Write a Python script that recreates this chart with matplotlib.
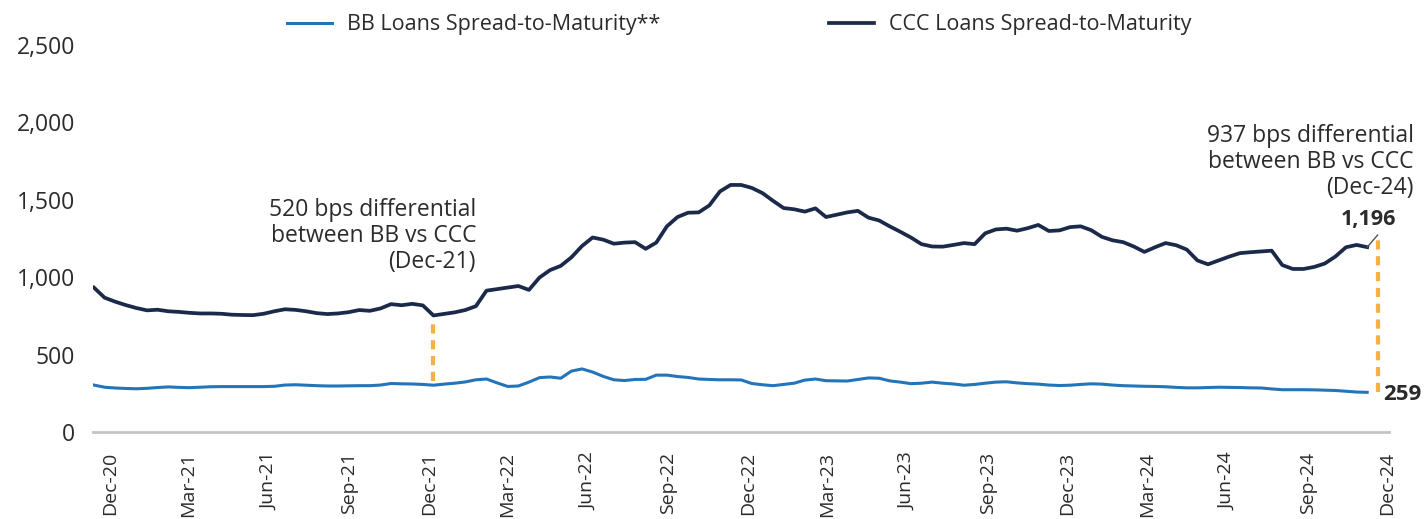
import pandas as pd
import numpy as np
import matplotlib
matplotlib.use("Agg")
import matplotlib.pyplot as plt
import matplotlib.dates as mdates
from matplotlib.ticker import FuncFormatter

plt.rcParams['font.family'] = ['Open Sans', 'DejaVu Sans']

# spread-to-maturity in bps (roughly every 12 days)
ccc = [935, 870, 844, 822, 803, 788, 792, 782, 778, 772,
       768, 768, 766, 760, 758, 757, 766, 782, 795, 791,
       782, 770, 764, 768, 776, 790, 785, 800, 828, 821,
       830, 820, 755, 765, 775, 790, 815, 915, 925, 935,
       945, 920, 1000, 1048, 1075, 1130, 1203, 1258, 1244, 1218,
       1225, 1228, 1185, 1225, 1330, 1390, 1418, 1420, 1465, 1555,
       1597, 1597, 1578, 1545, 1495, 1448, 1440, 1425, 1446, 1390,
       1405, 1420, 1430, 1386, 1368, 1330, 1295, 1258, 1215, 1200,
       1199, 1210, 1222, 1215, 1285, 1310, 1315, 1302, 1318, 1339,
       1300, 1304, 1325, 1330, 1305, 1262, 1240, 1228, 1200, 1165,
       1195, 1222, 1208, 1180, 1110, 1085, 1110, 1135, 1157, 1163,
       1168, 1173, 1080, 1055, 1055, 1068, 1090, 1135, 1195, 1210,
       1196]
bb = [306, 292, 287, 284, 282, 285, 290, 294, 291, 289,
      292, 295, 296, 296, 296, 296, 296, 298, 306, 308,
      305, 302, 300, 300, 301, 302, 302, 306, 316, 314,
      313, 310, 305, 312, 318, 326, 340, 345, 320, 297,
      300, 325, 354, 358, 350, 396, 410, 390, 362, 340,
      335, 342, 343, 370, 370, 361, 355, 345, 342, 340,
      340, 339, 316, 308, 302, 310, 318, 338, 345, 334,
      333, 332, 342, 352, 350, 333, 325, 315, 318, 325,
      318, 313, 305, 310, 318, 325, 327, 320, 315, 312,
      306, 303, 305, 310, 314, 312, 306, 302, 300, 298,
      297, 295, 291, 288, 288, 290, 292, 291, 290, 288,
      287, 281, 276, 276, 276, 275, 273, 271, 266, 261,
      259]
dates = pd.date_range('2020-11-13', '2024-11-08', periods=len(ccc))

blue = '#2474b9'
navy = '#1c2a4a'
orange = '#f9b040'
txt = '#2b2b2b'

fig = plt.figure(figsize=(14.27, 5.19), dpi=100)
ax = fig.add_axes([0.0652, 0.1667, 0.9082, 0.7466])

ax.plot(dates, bb, color=blue, lw=2.2, label='BB Loans Spread-to-Maturity**')
ax.plot(dates, ccc, color=navy, lw=2.7, label='CCC Loans Spread-to-Maturity')

# differential markers
i21 = 32
ax.vlines(dates[i21], bb[i21] + 30, ccc[i21] - 25, colors=orange, lw=3,
          linestyles=(0, (2.2, 1.6)))
x24 = dates[-1] + pd.Timedelta(days=12)
ax.vlines(x24, bb[-1] + 5, ccc[-1] + 70, colors=orange, lw=3,
          linestyles=(0, (2.2, 1.6)), clip_on=False)
ax.plot([dates[-1], x24], [ccc[-1], ccc[-1] + 78], color='#555555', lw=1)

ax.text(pd.Timestamp('2022-01-24'), 1268,
        '520 bps differential\nbetween BB vs CCC\n(Dec-21)',
        ha='right', va='center', fontsize=16.5, color=txt, linespacing=1.12)
ax.text(pd.Timestamp('2024-12-31'), 1745,
        '937 bps differential\nbetween BB vs CCC\n(Dec-24)',
        ha='right', va='center', fontsize=16.5, color=txt, linespacing=1.12,
        clip_on=False)
ax.text(pd.Timestamp('2024-11-10'), 1377, '1,196', ha='center', va='center',
        fontsize=15.5, fontweight='bold', color=txt)
ax.text(pd.Timestamp('2024-11-26'), 248, '259', ha='left', va='center',
        fontsize=16, fontweight='bold', color=txt, clip_on=False)

ax.set_ylim(0, 2500)
ax.set_yticks(np.arange(0, 2501, 500))
ax.yaxis.set_major_formatter(FuncFormatter(lambda v, p: f'{int(v):,}'))
ax.set_xlim(pd.Timestamp('2020-11-12'), pd.Timestamp('2024-12-03'))
ax.xaxis.set_major_locator(mdates.MonthLocator(bymonth=[3, 6, 9, 12]))
ax.xaxis.set_major_formatter(mdates.DateFormatter('%b-%y'))
ax.tick_params(axis='x', length=0, pad=14, labelsize=14, labelrotation=90,
               labelcolor=txt)
ax.tick_params(axis='y', length=0, pad=13, labelsize=16.5, labelcolor=txt)

for s in ['top', 'right', 'left']:
    ax.spines[s].set_visible(False)
ax.spines['bottom'].set_color('#c4c4c4')
ax.spines['bottom'].set_linewidth(2)

fig.legend(loc='center', bbox_to_anchor=(0.518, 0.952), ncol=2, frameon=False,
           fontsize=15.5, handlelength=2.1, handletextpad=0.7,
           columnspacing=7.8, labelcolor=txt)

fig.savefig('out.png', dpi=100)
